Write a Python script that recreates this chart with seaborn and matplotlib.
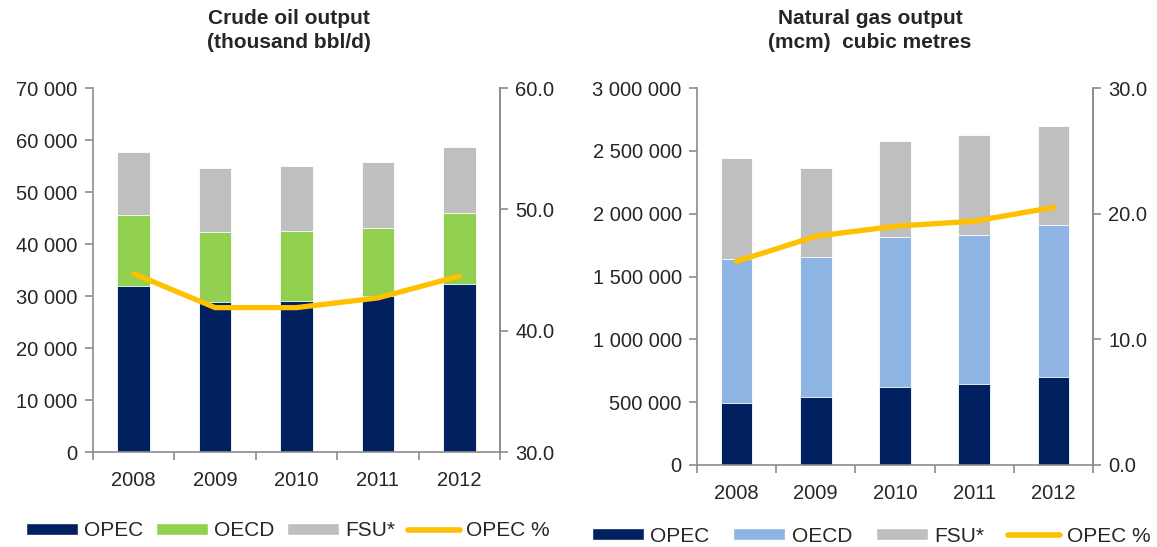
import numpy as np
import pandas as pd
import seaborn as sns
import matplotlib.pyplot as plt
from matplotlib.patches import Patch
from matplotlib.lines import Line2D
from matplotlib.ticker import FuncFormatter

sns.set_style("white")
plt.rcParams['font.family'] = ['Liberation Sans', 'DejaVu Sans']

years = ['2008', '2009', '2010', '2011', '2012']

# crude oil output (thousand bbl/d)
oil_opec = [32000, 28800, 29100, 30000, 32300]
oil_oecd = [13600, 13600, 13400, 13100, 13700]
oil_fsu = [12000, 12300, 12500, 12600, 12600]
oil_opec_pct = [44.7, 41.9, 41.9, 42.7, 44.5]

# natural gas output (mcm)
gas_opec = [496000, 544000, 618000, 647000, 700000]
gas_oecd = [1142000, 1115000, 1195000, 1182000, 1213000]
gas_fsu = [804000, 703000, 767000, 796000, 786000]
gas_opec_pct = [16.2, 18.2, 19.0, 19.4, 20.5]

navy = '#002060'
green = '#92D050'
lblue = '#8DB4E2'
grey = '#BFBFBF'
gold = '#FFC000'
spine_c = '#8C8C8C'

fig = plt.figure(figsize=(11.57, 5.47), dpi=100)
ax1 = fig.add_axes([93/1157, 1-452/547, 407/1157, 364/547])
ax2 = fig.add_axes([697/1157, 1-465/547, 396/1157, 377/547])


def space_fmt(v, pos):
    return f"{int(v):,}".replace(',', ' ')


def draw(ax, opec, oecd, fsu, pct, mid_color, ymax, ystep, rlim, rstep):
    df = pd.DataFrame({'year': years, 'opec': opec, 'oecd': oecd, 'fsu': fsu})
    df['l2'] = df['opec'] + df['oecd']
    df['l3'] = df['l2'] + df['fsu']
    for col, c in [('l3', grey), ('l2', mid_color), ('opec', navy)]:
        sns.barplot(data=df, x='year', y=col, color=c, width=0.4, ax=ax,
                    edgecolor='white', linewidth=0.6, saturation=1)
    ax.set_xlim(-0.5, 4.5)
    ax.set_ylim(0, ymax)
    ax.set_yticks(np.arange(0, ymax + 1, ystep))
    ax.yaxis.set_major_formatter(FuncFormatter(space_fmt))
    ax.set_xlabel('')
    ax.set_ylabel('')
    ax.set_xticks(np.arange(-0.5, 5, 1), minor=False)
    ax.set_xticklabels([])
    ax.set_xticks(range(5), minor=True)
    ax.set_xticklabels(years, minor=True)
    ax.tick_params(axis='x', which='major', direction='out', length=6,
                   color=spine_c, width=1.2, bottom=True)
    ax.tick_params(axis='x', which='minor', length=0, pad=14, labelsize=14.5)
    ax.tick_params(axis='y', direction='out', length=6, color=spine_c,
                   width=1.2, left=True, labelsize=14.5, pad=5)
    ax.spines['top'].set_visible(False)
    for s in ['left', 'bottom', 'right']:
        ax.spines[s].set_color(spine_c)
        ax.spines[s].set_linewidth(1.2)

    axr = ax.twinx()
    sns.lineplot(x=np.arange(5), y=pct, color=gold, linewidth=3.8, ax=axr,
                 solid_capstyle='round')
    axr.set_ylim(*rlim)
    axr.set_yticks(np.arange(rlim[0], rlim[1] + 0.1, rstep))
    axr.yaxis.set_major_formatter(FuncFormatter(lambda v, p: f"{v:.1f}"))
    axr.tick_params(axis='y', direction='out', length=6, color=spine_c,
                    width=1.2, right=True, labelsize=14.5, pad=5)
    axr.spines['top'].set_visible(False)
    axr.spines['left'].set_visible(False)
    axr.spines['bottom'].set_visible(False)
    axr.spines['right'].set_color(spine_c)
    axr.spines['right'].set_linewidth(1.2)
    axr.set_xlim(-0.5, 4.5)


draw(ax1, oil_opec, oil_oecd, oil_fsu, oil_opec_pct, green, 70000, 10000, (30, 60), 10)
draw(ax2, gas_opec, gas_oecd, gas_fsu, gas_opec_pct, lblue, 3000000, 500000, (0, 30), 10)

title_kw = dict(ha='center', va='center', fontsize=15, fontweight='bold')
fig.text(289/1157, 1-19/547, 'Crude oil output', **title_kw)
fig.text(289/1157, 1-43/547, '(thousand bbl/d)', **title_kw)
fig.text(870/1157, 1-19/547, 'Natural gas output', **title_kw)
fig.text(870/1157, 1-43/547, '(mcm)  cubic metres', **title_kw)


def legend_handles(mid_color):
    return [Patch(facecolor=navy), Patch(facecolor=mid_color),
            Patch(facecolor=grey),
            Line2D([], [], color=gold, linewidth=4, solid_capstyle='round')]


labels = ['OPEC', 'OECD', 'FSU*', 'OPEC %']
fig.legend(legend_handles(green), labels, loc='center', ncol=4,
           bbox_to_anchor=(288/1157, 1-531/547), frameon=False, fontsize=15,
           handlelength=2.5, handleheight=0.55, handletextpad=0.3,
           columnspacing=0.6, borderpad=0)
fig.legend(legend_handles(lblue), labels, loc='center', ncol=4,
           bbox_to_anchor=(871/1157, 1-536/547), frameon=False, fontsize=15,
           handlelength=2.5, handleheight=0.55, handletextpad=0.3,
           columnspacing=1.15, borderpad=0)

fig.savefig('out.png', dpi=100)
